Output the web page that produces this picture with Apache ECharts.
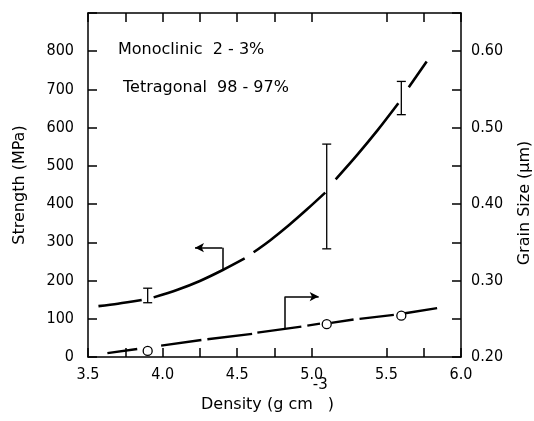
<!DOCTYPE html>
<html>
<head>
    <meta charset="utf-8">
    <title>Strength and grain size vs density</title>
    <style>
        html, body { margin: 0; padding: 0; background: #fff; }
        #main { width: 534px; height: 421px; }
    </style>
</head>
<body>
<div id="main"></div>
</body>
<script src="https://cdn.jsdelivr.net/npm/echarts@6/dist/echarts.min.js" type="text/javascript"></script>
<script type="text/javascript">

// strength curve (MPa), null = gap in the dashed line
var strengthCurve = [
    [3.57, 133], [3.70, 139.5], [3.86, 149], [3.88, null],
    [3.94, 156], [4.10, 176], [4.25, 199], [4.40, 227], [4.55, 258], [4.58, null],
    [4.61, 274], [4.72, 305], [4.85, 346], [4.97, 387], [5.09, 430], [5.12, null],
    [5.16, 465], [5.30, 527], [5.44, 593], [5.58, 664], [5.62, null],
    [5.65, 706], [5.77, 773]
];

// strength error bars
var errDensity = [3.9, 5.1, 5.6];
var errLow = [142, 283, 634];
var errHigh = [180, 557, 721];

// grain size curve (um), null = gap
var grainCurve = [
    [3.63, 0.205], [3.83, 0.2105], [3.86, null],
    [3.99, 0.2148], [4.26, 0.2223], [4.28, null],
    [4.30, 0.2232], [4.60, 0.2302], [4.62, null],
    [4.635, 0.2319], [4.93, 0.2398], [4.95, null],
    [4.97, 0.2411], [5.055, 0.2437], [5.09, null],
    [5.13, 0.2446], [5.28, 0.2490], [5.30, null],
    [5.32, 0.2499], [5.55, 0.2551], [5.59, null],
    [5.625, 0.2573], [5.84, 0.2639]
];

// measured grain sizes (open circles)
var grainDensity = [3.9, 5.1, 5.6];
var grainSize = [0.208, 0.243, 0.254];

// axis-pointer arrows
var strengthArrow = [[4.40, 228], [4.40, 286], [4.217, 286]];
var grainArrow = [[4.822, 0.2377], [4.822, 0.279], [5.046, 0.279]];

var xTicks = [3.5, 3.75, 4.0, 4.25, 4.5, 4.75, 5.0, 5.5, 5.75, 6.0];

var NUM_FONT = '"DejaVu Sans Condensed", "Liberation Sans Narrow", "DejaVu Sans", sans-serif';
var TXT_FONT = '"DejaVu Sans", sans-serif';

var main = document.getElementById('main');
var myChart = echarts.init(main);

var errData = [];
for (var i = 0; i < errDensity.length; i++)
    errData.push([errDensity[i], errLow[i], errHigh[i]]);

var grainPts = [];
for (i = 0; i < grainDensity.length; i++)
    grainPts.push([grainDensity[i], grainSize[i]]);

function arrowLines(pts) {
    return [
        [{ coord: pts[0], symbol: 'none' }, { coord: pts[1], symbol: 'none' }],
        [{ coord: pts[1], symbol: 'none' }, { coord: pts[2], symbol: 'arrow' }]
    ];
}

var axisLineStyle = { lineStyle: { color: '#000', width: 1.5 } };
var tickStyle = { show: true, inside: true, length: 9, lineStyle: { color: '#000', width: 1.5 } };
var labelStyle = { color: '#000', fontFamily: NUM_FONT, fontSize: 16 };

var option = {
    animation: false,
    grid: { left: 88, right: 73, top: 13, bottom: 64, outerBoundsMode: 'none', containLabel: false },
    xAxis: [{
        type: 'value',
        min: 3.5, max: 6.0, interval: 0.25,
        position: 'bottom',
        name: '{a|Density (g cm}{s|-3}{a|)}',
        nameLocation: 'middle',
        nameMoveOverlap: false,
        nameGap: 18,
        nameTextStyle: {
            verticalAlign: 'top',
            padding: [0, 14, 0, 0],
            rich: {
                a: { fontFamily: TXT_FONT, fontSize: 16, color: '#000', lineHeight: 38, verticalAlign: 'bottom' },
                s: { fontFamily: TXT_FONT, fontSize: 15, color: '#000', lineHeight: 38, verticalAlign: 'top', padding: [3, 0, 0, 0] }
            }
        },
        axisLine: axisLineStyle,
        axisTick: Object.assign({ customValues: xTicks }, tickStyle),
        splitLine: { show: false },
        axisLabel: Object.assign({
            margin: 10,
            formatter: function (v) {
                return Math.abs(v * 2 - Math.round(v * 2)) < 1e-6 ? v.toFixed(1) : '';
            }
        }, labelStyle)
    }, {
        type: 'value',
        min: 3.5, max: 6.0, interval: 0.25,
        position: 'top',
        axisLine: axisLineStyle,
        axisTick: Object.assign({ customValues: xTicks }, tickStyle),
        splitLine: { show: false },
        axisLabel: { show: false }
    }],
    yAxis: [{
        type: 'value',
        min: 0, max: 900, interval: 100,
        position: 'left',
        name: 'Strength (MPa)',
        nameLocation: 'middle',
        nameMoveOverlap: false,
        nameRotate: 90,
        nameGap: 60,
        nameTextStyle: { color: '#000', fontFamily: TXT_FONT, fontSize: 16 },
        axisLine: Object.assign({ show: true }, axisLineStyle),
        axisTick: tickStyle,
        splitLine: { show: false },
        axisLabel: Object.assign({
            margin: 14,
            formatter: function (v) { return v >= 900 ? '' : String(v); }
        }, labelStyle)
    }, {
        type: 'value',
        min: 0.2, max: 0.65, interval: 0.05,
        position: 'right',
        name: 'Grain Size (\u00b5m)',
        nameLocation: 'middle',
        nameMoveOverlap: false,
        nameRotate: 90,
        nameGap: 56,
        nameTextStyle: { color: '#000', fontFamily: TXT_FONT, fontSize: 16, padding: [0, 36, 0, 0] },
        axisLine: Object.assign({ show: true }, axisLineStyle),
        axisTick: tickStyle,
        splitLine: { show: false },
        axisLabel: Object.assign({
            margin: 10,
            formatter: function (v) {
                var k = Math.round(v * 100);
                return (k % 10 === 0 && k <= 60) ? (k / 100).toFixed(2) : '';
            }
        }, labelStyle)
    }],
    graphic: [{
        type: 'text', left: 118, top: 42,
        style: { text: 'Monoclinic  2 - 3%', fill: '#000', font: '16px ' + TXT_FONT }
    }, {
        type: 'text', left: 123, top: 80,
        style: { text: 'Tetragonal  98 - 97%', fill: '#000', font: '16px ' + TXT_FONT }
    }],
    series: [{
        name: 'Strength',
        type: 'line',
        xAxisIndex: 0, yAxisIndex: 0,
        data: strengthCurve,
        smooth: 0.3,
        connectNulls: false,
        showSymbol: false,
        lineStyle: { color: '#000', width: 2.6 },
        markLine: {
            silent: true,
            symbol: ['none', 'arrow'],
            symbolSize: [7, 9],
            label: { show: false },
            lineStyle: { type: 'solid', color: '#000', width: 1.5 },
            data: arrowLines(strengthArrow)
        }
    }, {
        name: 'Error',
        type: 'custom',
        xAxisIndex: 0, yAxisIndex: 0,
        data: errData,
        renderItem: function (params, api) {
            var x = api.value(0);
            var top = api.coord([x, api.value(2)]);
            var bot = api.coord([x, api.value(1)]);
            var w = 4.5;
            var st = { stroke: '#000', lineWidth: 1.3 };
            return {
                type: 'group',
                children: [
                    { type: 'line', shape: { x1: top[0], y1: top[1], x2: bot[0], y2: bot[1] }, style: st },
                    { type: 'line', shape: { x1: top[0] - w, y1: top[1], x2: top[0] + w, y2: top[1] }, style: st },
                    { type: 'line', shape: { x1: bot[0] - w, y1: bot[1], x2: bot[0] + w, y2: bot[1] }, style: st }
                ]
            };
        },
        z: 3
    }, {
        name: 'Grain',
        type: 'line',
        xAxisIndex: 0, yAxisIndex: 1,
        data: grainCurve,
        connectNulls: false,
        showSymbol: false,
        lineStyle: { color: '#000', width: 2.4 },
        markLine: {
            silent: true,
            symbol: ['none', 'arrow'],
            symbolSize: [7, 9],
            label: { show: false },
            lineStyle: { type: 'solid', color: '#000', width: 1.5 },
            data: arrowLines(grainArrow)
        }
    }, {
        name: 'Grain points',
        type: 'scatter',
        xAxisIndex: 0, yAxisIndex: 1,
        data: grainPts,
        symbol: 'circle',
        symbolSize: 9,
        itemStyle: { color: '#fff', borderColor: '#000', borderWidth: 1.3, opacity: 1 },
        z: 5
    }]
};

myChart.setOption(option);
</script>
</html>
